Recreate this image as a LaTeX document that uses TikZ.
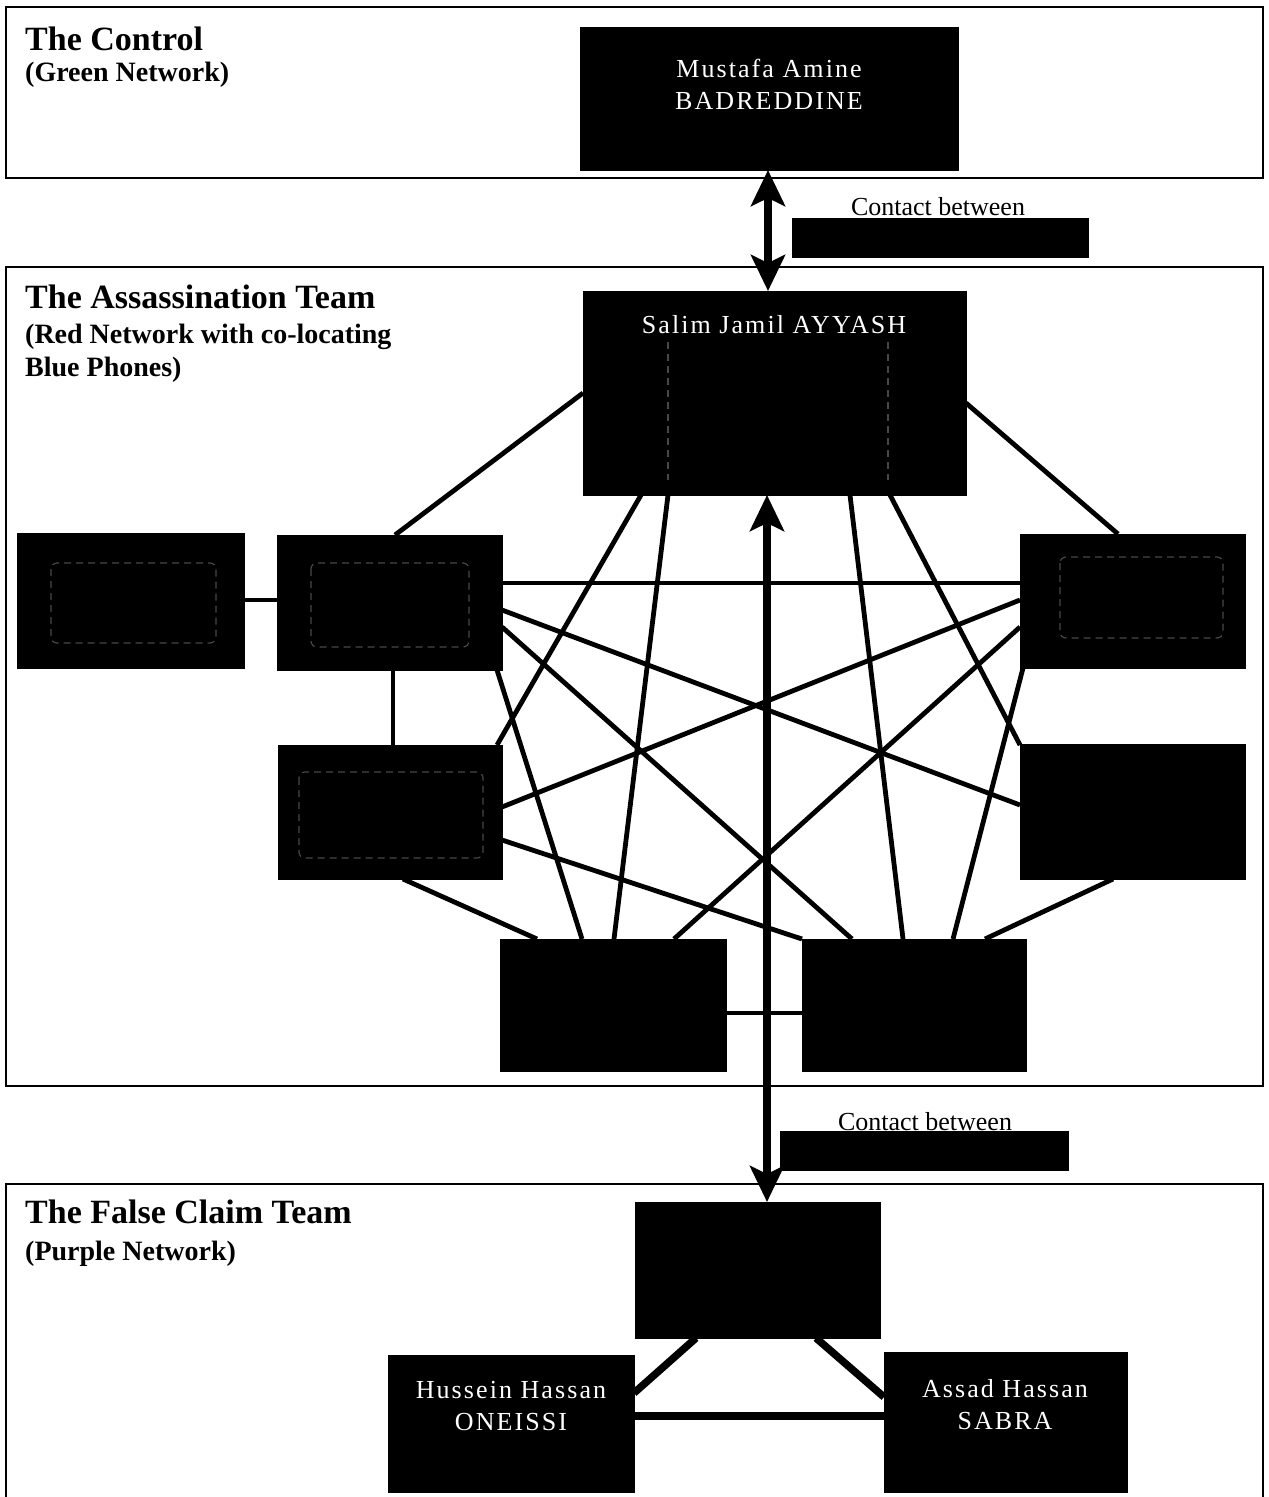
\documentclass[tikz,border=0pt]{standalone}
\usepackage{fontspec}
\setmainfont{Liberation Serif}
\usetikzlibrary{arrows.meta,calc}
\begin{document}
\begin{tikzpicture}[x=1pt,y=-1pt,
  panel/.style={draw=black, line width=2pt},
  blk/.style={fill=black, draw=black, inner sep=0pt, outer sep=0pt, line width=0.5pt},
  link/.style={line width=4.8pt},
  tlink/.style={line width=7.5pt},
  bigarrow/.style={line width=8pt, {Stealth[length=36pt,width=34pt,inset=8pt]}-{Stealth[length=36pt,width=34pt,inset=8pt]}},
  ttl/.style={anchor=base west, inner sep=0pt, font=\fontsize{34}{38}\selectfont\bfseries},
  subttl/.style={anchor=base west, inner sep=0pt, font=\fontsize{28}{32}\selectfont\bfseries},
  wtext/.style={text=white, inner sep=0pt, align=center, font=\fontsize{26}{32}\selectfont\addfontfeature{LetterSpace=8}},
  ctext/.style={anchor=base, inner sep=0pt, font=\fontsize{26}{30}\selectfont},
  ghost/.style={draw=black!72, line width=1.2pt, dash pattern=on 7pt off 5pt, rounded corners=6pt},
]
\useasboundingbox (0,0) rectangle (1269,1497);

% panels
\draw[panel] (6,7) rectangle (1263,178);
\draw[panel] (6,267) rectangle (1263,1086);
\draw[panel] (6,1497) -- (6,1184) -- (1263,1184) -- (1263,1497);

% headings
\node[ttl] (t1) at (25,50) {The Control};
\node[subttl] (s1) at (25,81) {(Green Network)};
\node[ttl] (t2) at (25,308) {The Assassination Team};
\node[subttl] (s2a) at (25,343) {(Red Network with co-locating};
\node[subttl] (s2b) at (25,376) {Blue Phones)};
\node[ttl] (t3) at (25,1223) {The False Claim Team};
\node[subttl] (s3) at (25,1260) {(Purple Network)};

% boxes
\path
  (769,98.5)   node[blk, minimum width=378pt, minimum height=143pt] (badr) {}
  (774.5,393)  node[blk, minimum width=383pt, minimum height=204pt] (ayy) {}
  (130.5,600.5) node[blk, minimum width=227pt, minimum height=135pt] (l1) {}
  (389.5,602.5) node[blk, minimum width=225pt, minimum height=135pt] (l2) {}
  (390,812)    node[blk, minimum width=224pt, minimum height=134pt] (l3) {}
  (1132.5,601) node[blk, minimum width=225pt, minimum height=134pt] (r1) {}
  (1132.5,811.5) node[blk, minimum width=225pt, minimum height=135pt] (r2) {}
  (613,1005)   node[blk, minimum width=226pt, minimum height=132pt] (b1) {}
  (914,1005)   node[blk, minimum width=224pt, minimum height=132pt] (b2) {}
  (757.5,1270) node[blk, minimum width=245pt, minimum height=136pt] (fc) {}
  (511,1423.5) node[blk, minimum width=246pt, minimum height=137pt] (one) {}
  (1005.5,1422) node[blk, minimum width=243pt, minimum height=140pt] (sab) {}
  (940,237.5)  node[blk, minimum width=296pt, minimum height=39pt] (bar1) {}
  (924,1150.5) node[blk, minimum width=288pt, minimum height=39pt] (bar2) {};

% connectors (assassination team)
\begin{scope}[link]
\draw ($(ayy.north west)+(0,102)$) -- ($(l2.north west)+(118,0)$);
\draw ($(ayy.north east)+(0,112)$) -- ($(r1.north west)+(98,0)$);
\draw ($(l1.north east)+(0,67)$) -- ($(l2.north west)+(0,65)$);
\draw ($(l2.south west)+(116,0)$) -- ($(l3.north west)+(115,0)$);
\draw ($(l2.north east)+(0,48)$) -- ($(r1.north west)+(0,49)$);
\draw ($(l2.north east)+(0,75)$) -- ($(r2.north west)+(0,61)$);
\draw ($(l2.north east)+(0,92)$) -- ($(b2.north west)+(50,0)$);
\draw ($(l2.south east)+(-5,0)$) -- ($(b1.north west)+(82,0)$);
\draw ($(ayy.south west)+(58,0)$) -- ($(l3.north east)+(-5,0)$);
\draw ($(ayy.south west)+(85,0)$) -- ($(b1.north west)+(114,0)$);
\draw ($(ayy.south west)+(267,0)$) -- ($(b2.north west)+(101,0)$);
\draw ($(ayy.south west)+(307,0)$) -- ($(r2.north west)+(0,1)$);
\draw ($(r1.north west)+(0,66)$) -- ($(l3.north east)+(0,62)$);
\draw ($(r1.north west)+(0,93)$) -- ($(b1.north west)+(174,0)$);
\draw ($(r1.south west)+(3,0)$) -- ($(b2.north west)+(151,0)$);
\draw ($(l3.north east)+(0,95)$) -- ($(b2.north west)+(0,0)$);
\draw ($(l3.south west)+(125,0)$) -- ($(b1.north west)+(37,0)$);
\draw ($(r2.south west)+(93,0)$) -- ($(b2.north west)+(183,0)$);
\draw ($(b1.north east)+(0,74)$) -- ($(b2.north west)+(0,74)$);
\end{scope}

% connectors (false claim team)
\begin{scope}[tlink]
\draw ($(fc.south west)+(61,0)$) -- ($(one.north east)+(0,38)$);
\draw ($(fc.south west)+(181,0)$) -- ($(sab.north west)+(0,45)$);
\draw ($(one.north east)+(0,61)$) -- ($(sab.north west)+(0,64)$);
\end{scope}

% boxes on top of connector ends
\foreach \n in {badr,ayy,l1,l2,l3,r1,r2,b1,b2,fc,one,sab,bar1,bar2}
  \fill[black] (\n.north west) rectangle (\n.south east);

% faint inner outlines of redacted boxes
\draw[ghost] (51,563) rectangle (216,643);
\draw[ghost] (311,563) rectangle (469,647);
\draw[ghost] (299,772) rectangle (483,858);
\draw[ghost] (1060,557) rectangle (1223,638);
\draw[ghost] (668,342) -- (668,480);
\draw[ghost] (888,342) -- (888,480);

% box texts
\node[wtext] (badrtxt) at (769,84) {Mustafa Amine\\BADREDDINE};
\node[wtext] (ayytxt) at (774,325) {Salim Jamil AYYASH};
\node[wtext] (onetxt) at (511,1406) {Hussein Hassan\\ONEISSI};
\node[wtext] (sabtxt) at (1005,1405) {Assad Hassan\\SABRA};

% contact labels
\node[ctext] (c1) at (938,215) {Contact between};
\node[ctext] (c2) at (925,1130) {Contact between};

% arrows
\coordinate (ax1) at (768,0);
\coordinate (ax2) at (767,0);
\draw[bigarrow] (badr.south -| ax1) -- (ayy.north -| ax1);
\draw[bigarrow] (ayy.south -| ax2) -- (fc.north -| ax2);
\end{tikzpicture}
\end{document}
